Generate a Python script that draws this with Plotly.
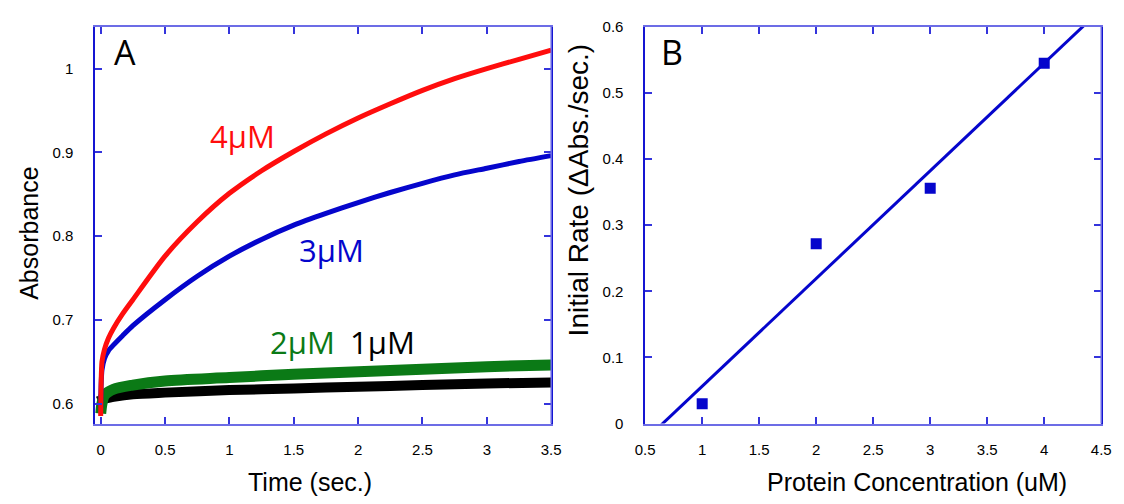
import numpy as np
import plotly.graph_objects as go

# ---- Panel A data ----
time_s = [0, 0.003, 0.01, 0.03, 0.06, 0.1, 0.17, 0.25, 0.5, 0.75, 1.0, 1.25, 1.5, 1.75,
          2.0, 2.25, 2.5, 2.75, 3.0, 3.25, 3.5]
abs_4uM = [0.585, 0.620, 0.650, 0.665, 0.678, 0.690, 0.707, 0.724, 0.776, 0.817, 0.851, 0.878, 0.901, 0.922,
           0.941, 0.958, 0.974, 0.988, 1.000, 1.011, 1.022]
abs_3uM = [0.595, 0.620, 0.640, 0.654, 0.663, 0.670, 0.681, 0.693, 0.724, 0.752, 0.776, 0.796, 0.813, 0.827,
           0.840, 0.852, 0.863, 0.873, 0.881, 0.889, 0.896]
time_low = [0, 0.01, 0.03, 0.1, 0.25, 0.5, 1.0, 1.5, 2.0, 2.5, 3.0, 3.5]
abs_2uM = [0.588, 0.600, 0.610, 0.617, 0.622, 0.627, 0.631, 0.635, 0.638, 0.641, 0.644, 0.646]
abs_1uM = [0.610, 0.607, 0.606, 0.608, 0.611, 0.613, 0.616, 0.618, 0.620, 0.622, 0.624, 0.625]

# ---- Panel B data ----
conc_uM = [1, 2, 3, 4]
init_rate = [0.030, 0.272, 0.356, 0.545]

slope, intercept = np.polyfit(conc_uM, init_rate, 1)
fit_x = [0.5, 4.5]
fit_y = [slope * v + intercept for v in fit_x]

RED = "#ff0d0d"
BLUE = "#0505cc"
GREEN = "#0b7a16"
FRAME = "#6c6ce6"
SPINE = "#1515d2"
TICK = "#3434dc"

fig = go.Figure()
fig.add_trace(go.Scatter(x=time_low, y=abs_1uM, mode="lines", line=dict(color="black", width=10, shape="spline", smoothing=0.8), xaxis="x", yaxis="y"))
fig.add_trace(go.Scatter(x=time_low, y=abs_2uM, mode="lines", line=dict(color=GREEN, width=11, shape="spline", smoothing=0.8), xaxis="x", yaxis="y"))
fig.add_trace(go.Scatter(x=time_s, y=abs_3uM, mode="lines", line=dict(color=BLUE, width=5, shape="spline", smoothing=0.7), xaxis="x", yaxis="y"))
fig.add_trace(go.Scatter(x=time_s, y=abs_4uM, mode="lines", line=dict(color=RED, width=5, shape="spline", smoothing=0.7), xaxis="x", yaxis="y"))

fig.add_trace(go.Scatter(x=fit_x, y=fit_y, mode="lines", line=dict(color=BLUE, width=3), xaxis="x2", yaxis="y2"))
fig.add_trace(go.Scatter(x=conc_uM, y=init_rate, mode="markers",
                         marker=dict(symbol="square", size=11, color=BLUE, line=dict(width=0)),
                         xaxis="x2", yaxis="y2"))

W, H = 1124, 504
def px(x):
    return x / W
def py(y):
    return 1 - y / H

tickfont = dict(family="Liberation Sans, Arial, sans-serif", size=15, color="black")
common_x = dict(showline=True, linecolor=FRAME, linewidth=1.5, mirror="allticks",
                ticks="inside", ticklen=7, tickwidth=1.5, tickcolor=TICK,
                showgrid=False, zeroline=False, tickfont=tickfont, ticklabelstandoff=12)
common_y = dict(showline=True, linecolor=SPINE, linewidth=1.5, mirror="allticks",
                ticks="inside", ticklen=7, tickwidth=1.5, tickcolor=TICK,
                showgrid=False, zeroline=False, tickfont=tickfont, ticklabelstandoff=17)

ydom = [py(429), py(18.4)]
fig.update_layout(
    width=W, height=H,
    margin=dict(l=0, r=0, t=0, b=0),
    paper_bgcolor="white", plot_bgcolor="white",
    showlegend=False,
    xaxis=dict(domain=[px(86.7), px(551)], range=[-0.043, 3.5], tickvals=[0, 0.5, 1, 1.5, 2, 2.5, 3, 3.5], anchor="y", **common_x),
    yaxis=dict(domain=ydom, range=[0.5761, 1.0499], tickvals=[0.6, 0.7, 0.8, 0.9, 1.0], anchor="x", **common_y),
    xaxis2=dict(domain=[px(646.7), px(1111)], range=[0.5, 4.5], tickvals=[0.5, 1, 1.5, 2, 2.5, 3, 3.5, 4, 4.5], anchor="y2", **common_x),
    yaxis2=dict(domain=ydom, range=[0, 0.6], tickvals=[0, 0.1, 0.2, 0.3, 0.4, 0.5, 0.6], anchor="x2", **common_y),
)

# light right-hand frame edges
for xr, yr in (("x domain", "y domain"), ("x2 domain", "y2 domain")):
    fig.add_shape(type="line", xref=xr, yref=yr, x0=1, x1=1, y0=0, y1=1,
                  line=dict(color=FRAME, width=1.5), layer="above")

title_font = dict(family="Liberation Sans, Arial, sans-serif", size=25, color="black")
label_font = "Open Sans, Noto Sans, sans-serif"
C = dict(xanchor="center", yanchor="middle", showarrow=False)
ann = [
    dict(text="Time (sec.)", x=px(305.5), y=py(490), xref="paper", yref="paper", font=title_font, **C),
    dict(text="Protein Concentration (uM)", x=px(923.3), y=py(489), xref="paper", yref="paper", font=title_font, **C),
    dict(text="Absorbance", x=px(20), y=py(232), xref="paper", yref="paper", textangle=-90, font=title_font, **C),
    dict(text="Initial Rate (ΔAbs./sec.)", x=px(579), y=py(187), xref="paper", yref="paper", textangle=-90,
         font=dict(family="Liberation Sans, Arial, sans-serif", size=28, color="black"), **C),
    dict(text="A", x=px(117.5), y=py(44), xref="paper", yref="paper",
         font=dict(family=label_font, size=34, color="black"), **C),
    dict(text="B", x=px(674), y=py(44), xref="paper", yref="paper",
         font=dict(family=label_font, size=34, color="black"), **C),
    dict(text="4μM", x=1.104, y=0.919, xref="x", yref="y", font=dict(family=label_font, size=31, color=RED), **C),
    dict(text="3μM", x=1.795, y=0.783, xref="x", yref="y", font=dict(family=label_font, size=31, color=BLUE), **C),
    dict(text="2μM", x=1.570, y=0.673, xref="x", yref="y", font=dict(family=label_font, size=31, color=GREEN), **C),
    dict(text="1μM", x=2.188, y=0.673, xref="x", yref="y", font=dict(family=label_font, size=31, color="black"), **C),
]
fig.update_layout(annotations=ann)

fig.write_html("out.html")
